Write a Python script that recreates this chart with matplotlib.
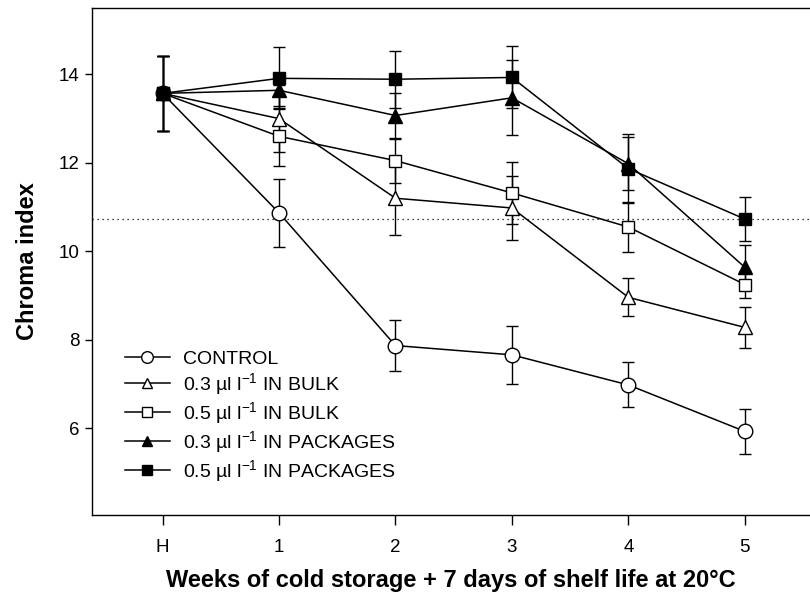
import numpy as np
import matplotlib
matplotlib.use("Agg")
import matplotlib.pyplot as plt

plt.rcParams['font.family'] = ['Liberation Sans', 'DejaVu Sans']
plt.rcParams['mathtext.fontset'] = 'custom'
plt.rcParams['mathtext.rm'] = 'Liberation Sans'
plt.rcParams['mathtext.it'] = 'Liberation Sans'

# data
weeks = [0, 1, 2, 3, 4, 5]
week_labels = ['H', '1', '2', '3', '4', '5']

control = [13.57, 10.87, 7.87, 7.66, 6.98, 5.93]
control_err = [0.85, 0.77, 0.58, 0.66, 0.51, 0.50]
bulk_03 = [13.57, 13.00, 11.20, 10.98, 8.96, 8.28]
bulk_03_err = [0.85, 0.75, 0.84, 0.73, 0.43, 0.47]
bulk_05 = [13.57, 12.60, 12.05, 11.32, 10.55, 9.25]
bulk_05_err = [0.85, 0.68, 0.50, 0.70, 0.56, 0.30]
pack_03 = [13.57, 13.64, 13.07, 13.47, 11.98, 9.64]
pack_03_err = [0.85, 0.40, 0.50, 0.85, 0.60, 0.50]
pack_05 = [13.57, 13.91, 13.89, 13.93, 11.87, 10.73]
pack_05_err = [0.85, 0.70, 0.64, 0.70, 0.78, 0.50]

ref_level = 10.73

series = [
    (control, control_err, 'o', 'white', 10.5, 'CONTROL'),
    (bulk_03, bulk_03_err, '^', 'white', 9.5, '0.3 µl l$^{-1}$ IN BULK'),
    (bulk_05, bulk_05_err, 's', 'white', 9, '0.5 µl l$^{-1}$ IN BULK'),
    (pack_03, pack_03_err, '^', 'black', 9.5, '0.3 µl l$^{-1}$ IN PACKAGES'),
    (pack_05, pack_05_err, 's', 'black', 9, '0.5 µl l$^{-1}$ IN PACKAGES'),
]

fig = plt.figure(figsize=(8.1, 5.95), dpi=100)
ax = fig.add_axes([92 / 810, 80 / 595, 718 / 810, 507 / 595])

ax.axhline(ref_level, color='black', ls=(0, (1, 3)), lw=0.9, zorder=1)

for vals, err, mk, fc, ms, lab in series:
    ax.errorbar(weeks, vals, yerr=err, fmt='none', ecolor='black',
                elinewidth=1.0, capsize=4, capthick=1.0, zorder=2)
    ax.plot(weeks, vals, color='black', lw=1.1, marker=mk, ms=ms,
            mfc=fc, mec='black', mew=1.0, label=lab, zorder=3)

ax.set_xlim(-0.606, 5.56)
ax.set_ylim(4.04, 15.5)
ax.set_xticks(weeks)
ax.set_xticklabels(week_labels)
ax.set_yticks([6, 8, 10, 12, 14])
ax.tick_params(direction='out', labelsize=13.5, width=1, color='black')
ax.tick_params(axis='x', length=7, pad=10)
ax.tick_params(axis='y', length=5, pad=4)
ax.spines['right'].set_visible(False)
for s in ['left', 'top', 'bottom']:
    ax.spines[s].set_linewidth(1.0)

ax.set_xlabel('Weeks of cold storage + 7 days of shelf life at 20°C',
              fontsize=17, fontweight='bold', labelpad=10)
ax.set_ylabel('Chroma index', fontsize=17, fontweight='bold', labelpad=14)

ax.legend(loc='upper left', bbox_to_anchor=(0.046, 0.325), frameon=False,
          fontsize=14, handlelength=2.3, handletextpad=0.7,
          labelspacing=0.16, borderpad=0, borderaxespad=0, markerscale=0.8)

fig.savefig('out.png', dpi=100)
